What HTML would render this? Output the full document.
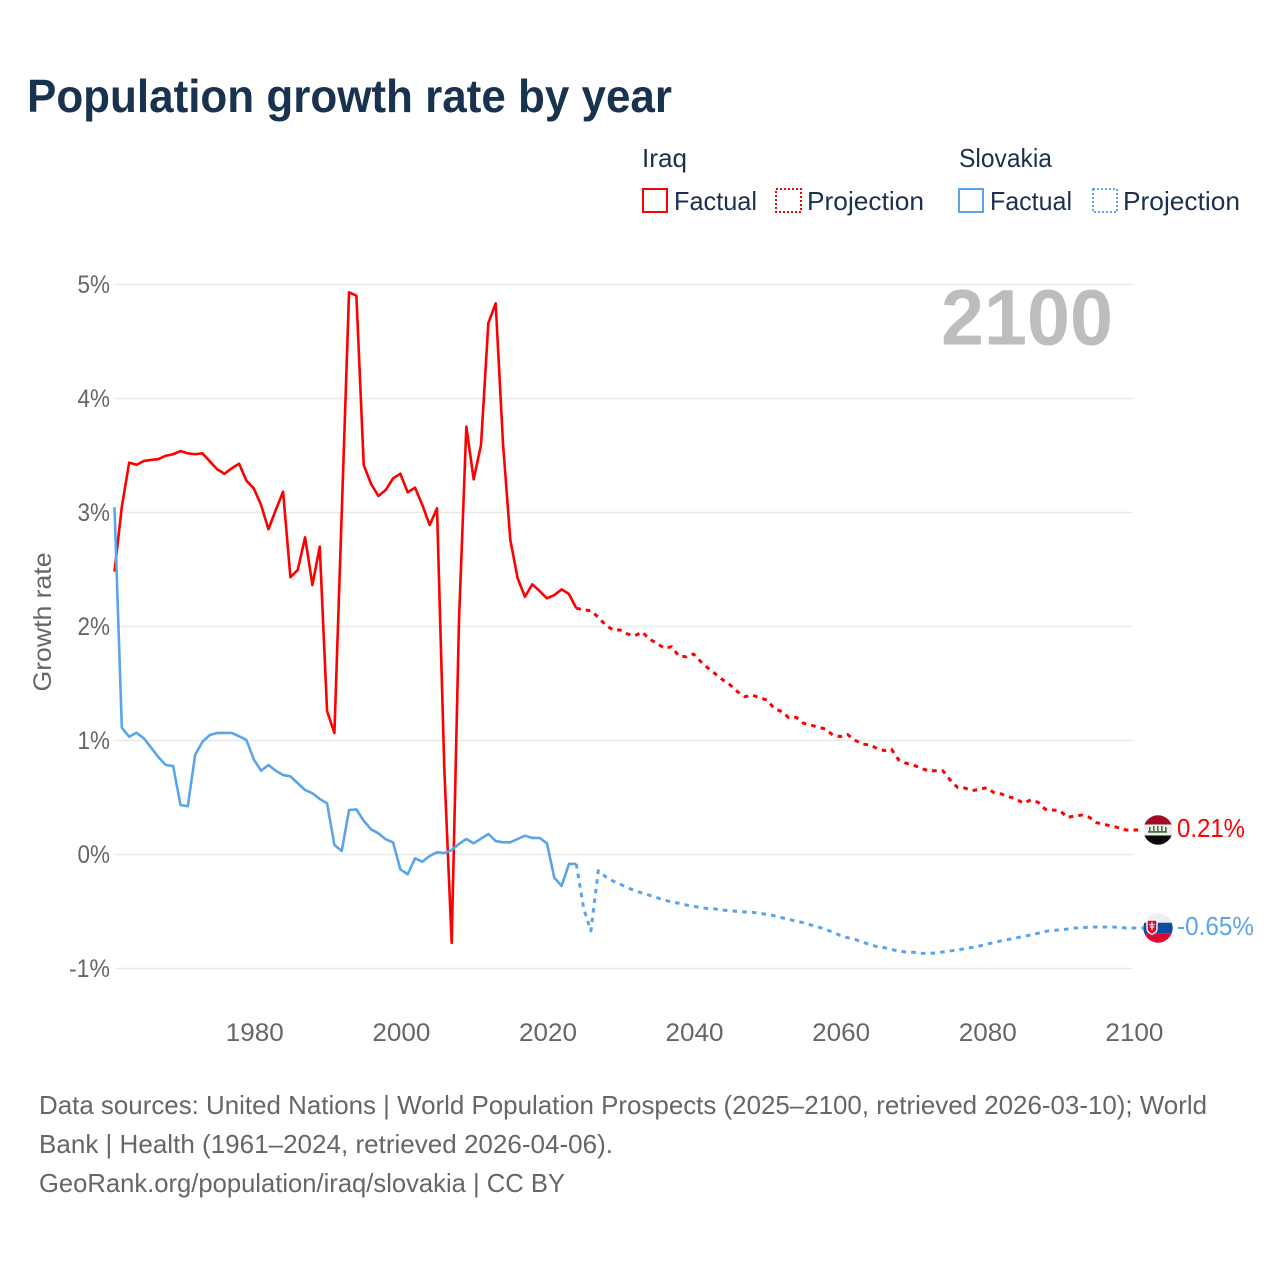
<!DOCTYPE html>
<html lang="en">
<head>
<meta charset="utf-8">
<title>Population growth rate by year</title>
<style>
html,body{margin:0;padding:0;background:#fff;}
svg{display:block;font-family:"Liberation Sans",sans-serif;}
</style>
</head>
<body>
<svg id="chart" xmlns="http://www.w3.org/2000/svg" width="1280" height="1280" viewBox="0 0 1280 1280">
  <defs>
    <clipPath id="clip-iraq"><circle cx="0" cy="0" r="14.7"></circle></clipPath>
    <clipPath id="clip-slovakia"><circle cx="0" cy="0" r="14.7"></circle></clipPath>
  </defs>
  <rect x="0" y="0" width="1280" height="1280" fill="#ffffff"></rect>
  <text x="27" y="112" font-size="46" font-weight="700" fill="#18324f" textLength="645" lengthAdjust="spacingAndGlyphs">Population growth rate by year</text>

  <g font-size="26" fill="#1b3050">
    <text x="642" y="167" textLength="45" lengthAdjust="spacingAndGlyphs">Iraq</text>
    <rect x="643" y="189" width="24" height="23" fill="none" stroke="#ff0000" stroke-width="2"></rect>
    <text x="674" y="210" textLength="83" lengthAdjust="spacingAndGlyphs">Factual</text>
    <rect x="776" y="189" width="25" height="23" fill="none" stroke="#ff0000" stroke-width="2" stroke-dasharray="2 2"></rect>
    <text x="807" y="210" textLength="117" lengthAdjust="spacingAndGlyphs">Projection</text>
    <text x="959" y="167" textLength="93" lengthAdjust="spacingAndGlyphs">Slovakia</text>
    <rect x="959" y="189" width="24" height="23" fill="none" stroke="#5ba4ea" stroke-width="2"></rect>
    <text x="990" y="210" textLength="82" lengthAdjust="spacingAndGlyphs">Factual</text>
    <rect x="1093" y="189" width="24" height="23" fill="none" stroke="#5ba4ea" stroke-width="2" stroke-dasharray="2 2"></rect>
    <text x="1123" y="210" textLength="117" lengthAdjust="spacingAndGlyphs">Projection</text>
  </g>

  <g id="grid"></g>
  <g id="y-ticks"></g>
  <g id="x-ticks"></g>
  <text transform="translate(51 622) rotate(-90)" text-anchor="middle" font-size="25" fill="#666666" textLength="139" lengthAdjust="spacingAndGlyphs">Growth rate</text>
  <text x="941" y="344.5" font-size="79" font-weight="700" fill="#bdbdbd" textLength="172" lengthAdjust="spacingAndGlyphs">2100</text>

  <g id="series"></g>

  <g id="flag-iraq">
    <g clip-path="url(#clip-iraq)">
      <rect x="-15" y="-15" width="30" height="9.5" fill="#a00b26"></rect>
      <rect x="-15" y="-5.5" width="30" height="11" fill="#eeeeee"></rect>
      <rect x="-15" y="5.5" width="30" height="10" fill="#0a0a0a"></rect>
      <g fill="#47753f">
        <rect x="-10" y="1" width="19" height="1.8"></rect>
        <rect x="-9" y="-3" width="1.6" height="4"></rect>
        <rect x="-5" y="-4" width="1.6" height="5"></rect>
        <rect x="-1" y="-4" width="1.6" height="5"></rect>
        <rect x="3" y="-4" width="1.6" height="5"></rect>
        <rect x="7" y="-3" width="1.6" height="4"></rect>
      </g>
    </g>
  </g>
  <g id="flag-slovakia">
    <g clip-path="url(#clip-slovakia)">
      <rect x="-15" y="-15" width="30" height="9.7" fill="#eeeeee"></rect>
      <rect x="-15" y="-5.3" width="30" height="10.6" fill="#0b4ea2"></rect>
      <rect x="-15" y="5.3" width="30" height="10" fill="#dc0a32"></rect>
      <path d="M-11 -8H-1V1C-1 4 -4 5.5 -6 6.5C-8 5.5 -11 4 -11 1Z" fill="#dc0a32" stroke="#ffffff" stroke-width="1.4"></path>
      <rect x="-6.6" y="-6" width="1.2" height="8" fill="#ffffff"></rect>
      <rect x="-8.6" y="-4" width="5.2" height="1.1" fill="#ffffff"></rect>
      <rect x="-8" y="-1.6" width="4.2" height="1.1" fill="#ffffff"></rect>
    </g>
  </g>
  <text id="label-iraq" x="1177" font-size="26" fill="#ff0000" textLength="68" lengthAdjust="spacingAndGlyphs"></text>
  <text id="label-slovakia" x="1177" font-size="26" fill="#5ba4ea" textLength="77" lengthAdjust="spacingAndGlyphs"></text>

  <g font-size="26" fill="#666666">
    <text x="39" y="1114" textLength="1168" lengthAdjust="spacingAndGlyphs">Data sources: United Nations | World Population Prospects (2025–2100, retrieved 2026-03-10); World</text>
    <text x="39" y="1153" textLength="574" lengthAdjust="spacingAndGlyphs">Bank | Health (1961–2024, retrieved 2026-04-06).</text>
    <text x="39" y="1192" textLength="526" lengthAdjust="spacingAndGlyphs">GeoRank.org/population/iraq/slovakia | CC BY</text>
  </g>
</svg>
<script>
const firstYear = 1961;
const projectionFirstYear = 2024;

const iraqFactual = [2.481,3.051,3.437,3.419,3.452,3.461,3.469,3.498,3.511,3.539,3.519,3.511,3.519,3.449,3.379,3.340,3.388,3.428,3.279,3.212,3.066,2.853,3.022,3.182,2.432,2.496,2.782,2.364,2.700,1.259,1.066,2.996,4.932,4.902,3.417,3.250,3.145,3.197,3.300,3.340,3.177,3.218,3.066,2.890,3.037,0.741,-0.776,2.057,3.753,3.291,3.592,4.660,4.835,3.607,2.759,2.423,2.261,2.370,2.311,2.247,2.276,2.326,2.285,2.160];

const iraqProjection = [2.160,2.145,2.139,2.081,2.013,1.969,1.969,1.934,1.919,1.952,1.888,1.853,1.809,1.823,1.741,1.735,1.759,1.691,1.633,1.583,1.531,1.487,1.428,1.384,1.399,1.375,1.355,1.282,1.253,1.200,1.204,1.151,1.136,1.116,1.101,1.048,1.035,1.053,1.004,0.969,0.961,0.932,0.911,0.923,0.829,0.800,0.785,0.756,0.735,0.735,0.735,0.654,0.589,0.583,0.560,0.572,0.586,0.542,0.531,0.507,0.487,0.449,0.478,0.458,0.396,0.390,0.384,0.326,0.338,0.346,0.326,0.279,0.265,0.250,0.235,0.215,0.215];

const slovakiaFactual = [3.046,1.112,1.033,1.068,1.019,0.937,0.853,0.785,0.776,0.434,0.423,0.873,0.989,1.048,1.066,1.066,1.066,1.037,1.004,0.835,0.735,0.785,0.735,0.697,0.686,0.625,0.566,0.537,0.487,0.449,0.083,0.031,0.390,0.396,0.296,0.221,0.186,0.133,0.107,-0.130,-0.174,-0.033,-0.063,-0.013,0.019,0.013,0.039,0.092,0.136,0.098,0.139,0.180,0.118,0.107,0.107,0.136,0.165,0.145,0.145,0.098,-0.204,-0.276,-0.083,-0.083];

const slovakiaProjection = [-0.083,-0.472,-0.671,-0.142,-0.195,-0.232,-0.261,-0.291,-0.318,-0.338,-0.358,-0.379,-0.399,-0.417,-0.428,-0.443,-0.454,-0.467,-0.475,-0.478,-0.487,-0.496,-0.498,-0.504,-0.507,-0.516,-0.525,-0.537,-0.554,-0.568,-0.586,-0.598,-0.618,-0.636,-0.656,-0.682,-0.709,-0.730,-0.744,-0.768,-0.788,-0.808,-0.817,-0.832,-0.849,-0.855,-0.858,-0.867,-0.867,-0.864,-0.855,-0.846,-0.838,-0.826,-0.814,-0.803,-0.785,-0.774,-0.756,-0.744,-0.732,-0.718,-0.706,-0.691,-0.674,-0.665,-0.662,-0.654,-0.645,-0.642,-0.636,-0.636,-0.636,-0.636,-0.639,-0.645,-0.645];

const yTickValues = [-1,0,1,2,3,4,5];
const yTickLabels = ["-1%","0%","1%","2%","3%","4%","5%"];
const xTickYears = [1980,2000,2020,2040,2060,2080,2100];
const endLabels = ["0.21%","-0.65%"];

const NS = "http://www.w3.org/2000/svg";
function xScale(year){ return 114.5 + (year - 1961) * 7.33; }
function yScale(value){ return 854.5 - value * 114; }
function make(tag, attrs, parentId){
  const el = document.createElementNS(NS, tag);
  for (const k in attrs) el.setAttribute(k, attrs[k]);
  document.getElementById(parentId).appendChild(el);
  return el;
}

yTickValues.forEach(function(v, i){
  const line = make("line", {x1:115, x2:1133, y1:yScale(v), y2:yScale(v), stroke:"#e9e9e9", "stroke-width":1.5}, "grid");
  
  
  const label = make("text", {x:110, y:yScale(v)+8.5, "text-anchor":"end", "font-size":25, fill:"#666666", textLength:yTickLabels[i].length===3?41:32.5, lengthAdjust:"spacingAndGlyphs"}, "y-ticks");
  label.textContent = yTickLabels[i];
  
  
});

xTickYears.forEach(function(year){
  const label = make("text", {x:xScale(year)+1, y:1041, "text-anchor":"middle", "font-size":25, fill:"#666666", textLength:58, lengthAdjust:"spacingAndGlyphs"}, "x-ticks");
  label.textContent = String(year);
  
  
});

function pathFrom(values, startYear, extendToX){
  let d = "";
  values.forEach(function(v, i){
    d += (i ? "L" : "M") + xScale(startYear + i).toFixed(2) + " " + yScale(v).toFixed(2);
  });
  if (extendToX) d += "L" + extendToX + " " + yScale(values[values.length-1]).toFixed(2);
  return d;
}
function drawSeries(values, startYear, color, dashed, extendToX){
  const attrs = {d:pathFrom(values, startYear, extendToX), fill:"none", stroke:color, "stroke-width":dashed ? 3 : 2.6, "stroke-linejoin":"round"};
  if (dashed) attrs["stroke-dasharray"] = "4.6 5.1";
  return make("path", attrs, "series");
}

const iraqProjLine = drawSeries(iraqProjection, projectionFirstYear, "#ff0000", true, 1143);


const iraqFactLine = drawSeries(iraqFactual, firstYear, "#ff0000", false);


const slovProjLine = drawSeries(slovakiaProjection, projectionFirstYear, "#5ba4ea", true, 1143);


const slovFactLine = drawSeries(slovakiaFactual, firstYear, "#5ba4ea", false);



const iraqEndY = yScale(iraqProjection[iraqProjection.length-1]);
const slovEndY = yScale(slovakiaProjection[slovakiaProjection.length-1]);
document.getElementById("flag-iraq").setAttribute("transform", "translate(1158 " + iraqEndY + ")");
document.getElementById("flag-slovakia").setAttribute("transform", "translate(1158 " + slovEndY + ")");
const labelIraq = document.getElementById("label-iraq");
labelIraq.textContent = endLabels[0];
labelIraq.setAttribute("y", iraqEndY + 7);
const labelSlovakia = document.getElementById("label-slovakia");
labelSlovakia.textContent = endLabels[1];
labelSlovakia.setAttribute("y", slovEndY + 7);
</script>
</body>
</html>
